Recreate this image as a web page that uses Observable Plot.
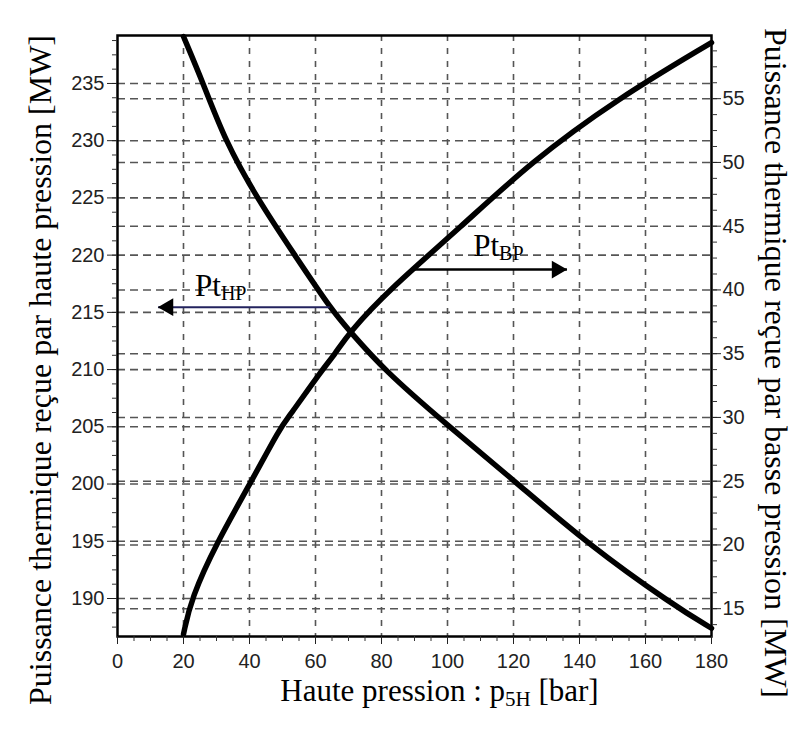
<!DOCTYPE html>
<html><head><meta charset="utf-8">
<script src="https://cdn.jsdelivr.net/npm/d3@7"></script>
<script src="https://cdn.jsdelivr.net/npm/@observablehq/plot@0.6"></script>
<style>body{margin:0;background:#fff;}</style>
</head><body><div id="chart"></div>
<script>
// High-pressure thermal power (left axis, MW) vs high pressure p5H (bar)
const hpPressure = [20, 26, 32.6, 42.2, 53.7, 65.4, 70, 80.6, 99.3, 120.6, 142.3, 168.5, 180];
const hpPower    = [239.1, 235, 230, 225, 220, 215, 213.5, 210, 205.3, 200.2, 194.8, 189.4, 187.4];
// Low-pressure thermal power (right axis, MW)
const bpPressure = [20, 22.3, 30.1, 40.2, 49.3, 51.8, 61.9, 66, 70, 82.2, 103.9, 125.1, 151.5, 180];
const bpPower    = [13.0, 15.8, 20.2, 24.8, 29.2, 30.0, 33.7, 35.0, 36.6, 40.0, 44.9, 50.0, 55.0, 59.4];

// Axes
const xTicks = [0, 20, 40, 60, 80, 100, 120, 140, 160, 180];
const xGridTicks = [20, 40, 60, 80, 100, 120, 140, 160];
const xMinorTicks = d3.range(0, 181, 5);
const leftTicks = [190, 195, 200, 205, 210, 215, 220, 225, 230, 235];
const leftMinorTicks = d3.range(187.5, 239.2, 1.25);
const rightTicks = [15, 20, 25, 30, 35, 40, 45, 50, 55];
const rightMinorTicks = d3.range(13.75, 59.9, 1.25);
const xDomain = [0, 180];
const leftDomain = [186.68, 239.19];
// right axis value -> left axis value (both axes share the plot height)
const rightOffset = 172.40, rightFactor = 1.1140;
const toLeft = v => rightOffset + rightFactor * v;
const toRight = v => (v - rightOffset) / rightFactor;

// Annotations
const hpLabel = {x: 23.5, y: 216.47, text: "Pt", sub: "HP"};
const bpLabel = {x: 107.8, y: 42.7, text: "Pt", sub: "BP"};      // y in right-axis units
const hpArrow = {x1: 64.3, x2: 12.3, y: 215.45};
const bpArrow = {x1: 89.6, x2: 136.2, y: 41.6};                    // y in right-axis units
const xTitle = ["Haute pression : p", "5H", " [bar]"];
const leftTitle = "Puissance thermique reçue par haute pression [MW]";
const rightTitle = "Puissance thermique reçue par basse pression [MW]";

const hpData = hpPressure.map((p, i) => ({p, v: hpPower[i]}));
const bpData = bpPressure.map((p, i) => ({p, v: toLeft(bpPower[i])}));

const serif = "Liberation Serif, Times New Roman, serif";
const sans = "Liberation Sans, Arial, sans-serif";
const gridH = {stroke: "#555", strokeOpacity: 1, strokeWidth: 1.6, strokeDasharray: "8,5"};
const gridV = {stroke: "#555", strokeOpacity: 1, strokeWidth: 1.6, strokeDasharray: "6,7"};

const chart = Plot.plot({
  width: 794,
  height: 733,
  marginLeft: 117,
  marginRight: 83,
  marginTop: 35,
  marginBottom: 97,
  style: {fontFamily: sans, fontSize: "20px", color: "#222", background: "#fff"},
  x: {domain: xDomain, label: null, axis: null},
  y: {domain: leftDomain, label: null, axis: null},
  marks: [
    Plot.gridX(xGridTicks, gridV),
    Plot.gridY(leftTicks, gridH),
    Plot.gridY(rightTicks.map(toLeft), gridH),
    Plot.line(hpData, {x: "p", y: "v", stroke: "#000", strokeWidth: 5.5, curve: "basis"}),
    Plot.line(bpData, {x: "p", y: "v", stroke: "#000", strokeWidth: 5.5, curve: "basis"}),
    Plot.frame({stroke: "#000", strokeWidth: 2.5}),
    // bottom axis
    Plot.axisX(xMinorTicks, {anchor: "bottom", tickSize: 5, tickFormat: () => "", label: null, stroke: "#333"}),
    Plot.axisX(xTicks, {anchor: "bottom", tickSize: 8, tickPadding: 9, label: null, stroke: "#222", fill: "#222", fontSize: 20}),
    // left axis
    Plot.axisY(leftMinorTicks, {anchor: "left", tickSize: 5, tickFormat: () => "", label: null, stroke: "#333"}),
    Plot.axisY(leftTicks, {anchor: "left", tickSize: 10, tickPadding: 3, label: null, stroke: "#222", fill: "#222", fontSize: 20}),
    // right axis
    Plot.axisY(rightMinorTicks.map(toLeft), {anchor: "right", tickSize: 5, tickFormat: () => "", label: null, stroke: "#333"}),
    Plot.axisY(rightTicks.map(toLeft), {anchor: "right", tickSize: 9, tickPadding: 2, label: null, stroke: "#222", fill: "#222", fontSize: 20,
      tickFormat: d => String(Math.round(toRight(d)))}),
    // arrows
    Plot.link([hpArrow], {x1: "x1", x2: "x2", y1: "y", y2: "y", stroke: "#23235e", strokeWidth: 2}),
    Plot.dot([hpArrow], {x: "x2", y: "y", symbol: "triangle", r: 6.6, rotate: -90, dx: 10, fill: "#000", stroke: "none"}),
    Plot.link([bpArrow], {x1: "x1", x2: "x2", y1: d => toLeft(d.y), y2: d => toLeft(d.y), stroke: "#000", strokeWidth: 2.5}),
    Plot.dot([bpArrow], {x: "x2", y: d => toLeft(d.y), symbol: "triangle", r: 6.6, rotate: 90, dx: -10, fill: "#000", stroke: "none"}),
    // annotation labels
    Plot.text([hpLabel], {x: "x", y: "y", text: "text", textAnchor: "start", lineAnchor: "bottom", fontFamily: serif, fontSize: 31, fill: "#000"}),
    Plot.text([bpLabel], {x: "x", y: d => toLeft(d.y), text: "text", textAnchor: "start", lineAnchor: "bottom", fontFamily: serif, fontSize: 31, fill: "#000"}),
    // axis titles
    Plot.text([xTitle[0]], {frameAnchor: "bottom", textAnchor: "middle", dx: 25, dy: 64, fontFamily: serif, fontSize: 31, fill: "#000"}),
    Plot.text([leftTitle], {frameAnchor: "left", textAnchor: "middle", rotate: -90, dx: -77, dy: 34, fontFamily: serif, fontSize: 32, fill: "#000"}),
    Plot.text([rightTitle], {frameAnchor: "right", textAnchor: "middle", rotate: 90, dx: 64, dy: 27, fontFamily: serif, fontSize: 32, fill: "#000"})
  ]
});
document.getElementById("chart").appendChild(chart);

// subscripts as real tspans
const ns = "http://www.w3.org/2000/svg";
function tspan(parent, str, size, dy) {
  const s = document.createElementNS(ns, "tspan");
  if (size) s.setAttribute("font-size", size);
  if (dy) s.setAttribute("dy", dy);
  s.textContent = str;
  parent.appendChild(s);
}
const texts = Array.from(chart.querySelectorAll("text"));
const pts = texts.filter(t => t.textContent === "Pt");
if (pts[0]) tspan(pts[0], hpLabel.sub, 20, 4);
if (pts[1]) tspan(pts[1], bpLabel.sub, 20, 4);
const xt = texts.find(t => t.textContent === xTitle[0]);
if (xt) { tspan(xt, xTitle[1], 21, 5); tspan(xt, xTitle[2], null, -5); }
</script>
</body></html>
